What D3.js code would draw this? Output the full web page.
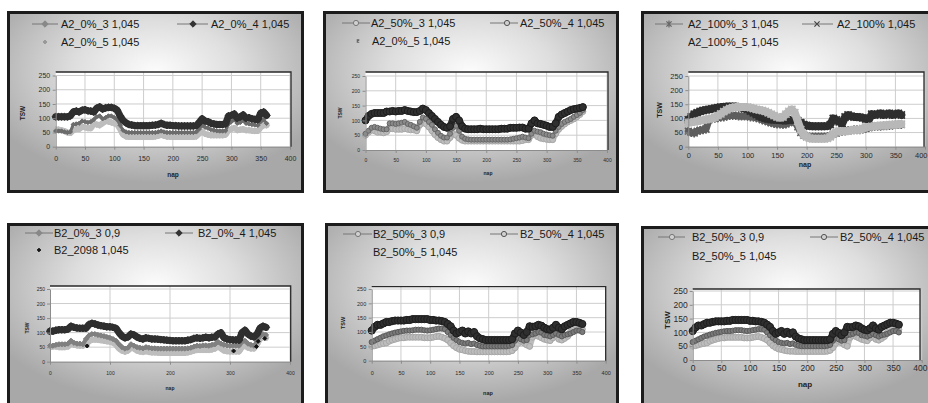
<!DOCTYPE html>
<html>
<head>
<meta charset="utf-8">
<script src="https://cdn.jsdelivr.net/npm/d3@7"></script>
<style>
body{margin:0;background:#fff}
svg{display:block}
text{font-family:"Liberation Sans",Arial,sans-serif}
</style>
</head>
<body>
<div class="chart"></div>
<script>
// day of year (nap) shared by all series
const days = [0,5,10,15,20,25,30,35,40,45,50,55,60,65,70,75,80,85,90,95,100,105,110,115,120,125,130,135,140,145,
150,155,160,165,170,175,180,185,190,195,200,205,210,215,220,225,230,235,240,245,250,255,260,265,270,275,280,285,290,295,
300,305,310,315,320,325,330,335,340,345,350,355,360];
const yTicks = [0,50,100,150,200,250];
const xTicks50 = [0,50,100,150,200,250,300,350,400];
const xTicks100 = [0,100,200,300,400];

// A2_0%
const a0_3 = [55,55,55,52,50,52,78,80,82,90, 88,85,88,95,105,108,98,102,108,108, 102,95,75,58,52,50,50,50,50,50,
50,50,50,50,50,52,55,52,50,50, 50,50,50,50,50,50,50,50,52,62, 75,68,65,60,58,56,55,55,56,80, 88,95,82,85,92,82,80,78,76,75, 88,95,82];
const a0_4 = [105,105,105,105,105,108,122,125,122,128, 130,126,125,122,135,140,132,136,138,138, 135,128,108,92,84,78,76,74,74,74,
74,74,74,75,76,78,82,78,75,75, 74,74,73,73,73,73,73,73,74,85, 98,90,88,82,80,78,78,78,80,108, 110,115,100,105,112,100,102,98,96,95, 118,122,110];
const a0_5 = [60,60,58,55,50,48,58,62,62,70, 68,65,65,80,78,75,82,90,88,85, 82,78,62,42,36,34,34,34,34,34,
34,34,34,34,36,38,42,38,35,35, 34,34,34,34,34,34,34,34,36,46, 52,45,42,40,40,40,40,40,42,58, 62,66,58,60,62,58,58,56,55,55, 68,75,75];

// A2_50%
const a50_3 = [55,65,75,78,75,72,70,70,90,90, 88,90,92,95,88,85,80,75,95,110, 105,95,85,70,58,48,42,42,55,75,
82,65,45,38,36,35,35,35,35,35, 35,35,35,35,35,35,35,35,36,38, 40,42,45,42,40,55,65,62,60,55, 52,50,48,65,78,88,95,100,105,112, 118,125,135];
const a50_4 = [100,115,122,125,125,125,125,130,130,132, 130,132,132,135,132,130,128,128,132,140, 135,125,115,105,95,85,78,75,80,105,
112,100,80,72,70,70,70,70,72,70, 70,70,70,70,70,72,72,72,75,75, 75,76,76,72,72,90,100,90,88,85, 82,78,78,90,112,120,125,130,135,138, 140,142,145];
const a50_5 = [50,60,68,65,60,60,58,62,72,72, 70,70,70,72,70,68,68,65,85,95, 88,78,65,52,42,35,30,30,42,55,
50,40,33,30,30,30,30,30,30,30, 30,30,30,30,30,30,30,30,30,30, 30,30,32,35,35,50,55,45,40,38, 36,35,35,55,70,80,88,95,100,105, 112,120,130];

// A2_100%
const a100_3 = [55,50,48,55,58,60,62,95,100,100, 102,105,105,108,110,110,110,108,108,108, 108,105,105,102,100,95,92,88,85,82,
80,80,78,80,85,90,88,70,50,40, 35,35,35,35,35,35,35,35,38,45, 48,52,55,55,58,58,60,60,60,62, 65,68,70,72,72,72,74,74,75,76, 78,78,78];
const a100_4 = [95,105,115,120,125,128,130,132,134,136, 138,140,140,142,142,142,142,140,138,136, 132,126,120,114,108,104,100,98,96,95,
95,94,93,93,94,95,95,92,85,78, 75,73,72,72,72,72,72,73,78,100, 95,88,82,105,112,108,105,105,104,102, 98,95,115,112,115,118,112,115,118,112, 115,118,112];
const a100_5 = [85,86,88,90,92,94,96,98,100,104, 110,116,124,130,135,138,140,140,140,140, 140,138,135,132,130,128,125,120,115,110,
105,102,105,115,125,132,120,90,60,42, 35,30,28,28,28,28,28,30,35,45, 52,55,55,55,55,58,60,60,60,65, 70,70,72,72,74,75,75,76,78,78, 78,80,80];

// B2_0%
const b0_3 = [55,55,58,60,60,60,62,72,65,62, 62,60,78,90,95,95,92,90,88,85, 82,78,72,60,50,45,48,60,55,50,
48,46,50,48,46,46,45,45,45,45, 45,45,45,45,45,45,46,48,52,55, 54,56,56,55,58,60,68,62,58,56, 55,55,55,55,68,72,62,58,55,70, 88,95,92];
const b0_4 = [105,105,108,110,110,110,112,122,118,116, 115,115,115,128,132,130,126,124,122,120, 120,118,115,100,88,82,85,95,92,85,
80,78,82,80,78,78,77,76,75,74, 73,72,72,72,72,72,74,76,80,82, 80,82,84,82,84,85,95,100,82,78, 76,75,75,74,100,108,95,88,85,95, 115,122,118];
const b0_5 = [50,52,52,50,50,50,52,62,58,56, 55,55,60,70,75,76,75,74,72,70, 68,65,58,45,38,34,38,48,45,38,
35,33,36,33,32,32,31,30,30,30, 30,30,30,30,30,30,32,35,38,40, 40,40,40,40,42,45,52,45,38,36, 35,35,35,35,50,55,48,45,45,60, 78,85,82];
const b2098Days = [62,306,344,347,358];
const b2098 = [54,37,52,70,80];

// B2_50%
const b50_3 = [65,70,75,80,85,88,92,95,98,100, 102,104,105,105,106,108,108,108,106,105, 106,108,110,112,112,110,100,90,80,72,
65,62,60,62,58,60,55,52,50,50, 50,50,50,50,50,50,50,52,55,70, 80,75,70,72,90,92,95,100,98,90, 88,85,90,95,90,85,90,92,95,100, 105,105,100];
const b50_4 = [105,118,125,125,130,135,135,138,140,140, 140,140,142,142,145,145,145,145,145,145, 142,142,140,140,138,135,128,120,105,95,
100,105,95,102,95,100,85,78,75,72, 72,72,72,72,72,72,72,72,75,95, 105,98,90,100,120,118,120,125,122,115, 110,108,115,125,115,110,120,125,130,135, 135,132,128];
const b50_5 = [50,52,55,58,60,62,68,72,75,78, 80,80,82,82,82,82,82,82,80,80, 80,82,84,85,82,78,72,62,52,45,
40,38,35,33,32,32,31,31,31,31, 31,31,31,31,31,31,31,32,35,45, 60,68,62,55,50,82,88,85,80,75, 72,70,80,85,75,72,78,85,100,115, 122,125,110];

const DARK = '#2f2f2f', MID = '#6c6c6c', LIGHT = '#bdbdbd';

function markerPath(type, s) {
  if (type === 'diamond') return `M0,${-s}L${s},0L0,${s}L${-s},0Z`;
  if (type === 'x') return `M${-s},${-s}L${s},${s}M${-s},${s}L${s},${-s}`;
  if (type === 'star') return `M${-s},${-s}L${s},${s}M${-s},${s}L${s},${-s}M0,${-s*1.3}L0,${s*1.3}`;
  return null;
}

const panels = [
  {box:[7,11,297,182], x0:55.7, x400:290, y0:146.7, y250:75.5, top:72, right:291, xTicks:xTicks50,
   tickFont:7, xPad:5.9, yPad:2.5, titleFont:6.5, tsw:[23,113], nap:[173,175], legFont:11, rows:[24,42],
   legend:[{x1:32,x2:58,m:45,t:61,row:0,label:'A2_0%_3 1,045',mk:'diamond',ms:3.2,fill:'#888',stroke:'#888'},
           {x1:177,x2:208,m:193,t:211,row:0,label:'A2_0%_4 1,045',mk:'diamond',ms:3.2,fill:'#333',stroke:'#333'},
           {m:45,t:61,row:1,label:'A2_0%_5 1,045',mk:'diamond',ms:2,fill:'#999',stroke:'#999'}],
   series:[{v:a0_5,c:LIGHT,w:6,mk:'diamond',ms:3},
           {v:a0_3,c:MID,w:3,mk:'diamond',ms:2.2},
           {v:a0_4,c:DARK,w:7,mk:'diamond',ms:3.6}]},
  {box:[323,11,296,182], x0:365.5, x400:607, y0:150, y250:76, top:72, right:608, xTicks:xTicks50,
   tickFont:5, xPad:5.3, yPad:2.5, titleFont:5, tsw:[340,113], nap:[488,173], legFont:11, rows:[23,41],
   legend:[{x1:342,x2:370,m:356,t:371,row:0,label:'A2_50%_3 1,045',mk:'circle',ms:2.6,fill:'#d0d0d0',stroke:'#777'},
           {x1:490,x2:518,m:507,t:520,row:0,label:'A2_50%_4 1,045',mk:'circle',ms:2.6,fill:'#d0d0d0',stroke:'#555'},
           {m:358,t:372,row:1,label:'A2_0%_5 1,045',mk:'star',ms:1.3,fill:'none',stroke:'#666'}],
   series:[{v:a50_5,c:LIGHT,w:6,mk:'circle',ms:3,sc:'#a8a8a8'},
           {v:a50_3,c:'#8a8a8a',w:3,mk:'circle',ms:2.5,sc:'#666'},
           {v:a50_4,c:DARK,w:7,mk:'circle',ms:3.5,sc:'#1e1e1e'}]},
  {box:[641,11,300,182], x0:688.3, x400:925, y0:146.7, y250:76, top:72, right:924, xTicks:xTicks50,
   tickFont:7.5, xPad:2.7, yPad:2.5, titleFont:7, tsw:[660,110], nap:[805,165], legFont:11, rows:[24,42],
   clampLast:true,
   legend:[{x1:655,x2:683,m:669,t:688,row:0,label:'A2_100%_3 1,045',mk:'star',ms:2.6,fill:'none',stroke:'#666'},
           {x1:802,x2:833,m:817,t:837,row:0,label:'A2_100% 1,045',mk:'x',ms:2.6,fill:'none',stroke:'#444'},
           {t:688,row:1,label:'A2_100%_5 1,045'}],
   series:[{v:a100_3,c:'#5e5e5e',w:7,mk:'star',ms:3.4},
           {v:a100_4,c:DARK,w:8,mk:'x',ms:3.6},
           {v:a100_5,c:'#b8b8b8',w:8,mk:'x',ms:3.6}]},
  {box:[7,223,297,190], x0:50, x400:290, y0:361.7, y250:289, top:286, right:290.7, xTicks:xTicks100,
   tickFont:5, xPad:6.9, yPad:2, titleFont:5, tsw:[27,328], nap:[170,388], legFont:11, rows:[233,250],
   legend:[{x1:25,x2:53,m:39,t:54,row:0,label:'B2_0%_3 0,9',mk:'diamond',ms:3.2,fill:'#888',stroke:'#888'},
           {x1:165,x2:193,m:179,t:198,row:0,label:'B2_0%_4 1,045',mk:'diamond',ms:3.2,fill:'#333',stroke:'#333'},
           {m:39,t:54,row:1,label:'B2_2098 1,045',mk:'diamond',ms:1.8,fill:'#111',stroke:'#111'}],
   series:[{v:b0_5,c:LIGHT,w:6,mk:'diamond',ms:3},
           {v:b0_3,c:'#808080',w:4,mk:'diamond',ms:2.6},
           {v:b0_4,c:DARK,w:7,mk:'diamond',ms:3.6}],
   dots:{d:b2098Days,v:b2098}},
  {box:[325,223,294,190], x0:371.7, x400:605.7, y0:360.7, y250:289, top:286.7, right:605.7, xTicks:xTicks50,
   tickFont:5.5, xPad:7.7, yPad:2.5, titleFont:5.5, tsw:[343,323], nap:[488,393], legFont:11, rows:[234,252],
   legend:[{x1:343,x2:372,m:358,t:373,row:0,label:'B2_50%_3 0,9',mk:'circle',ms:2.6,fill:'#d0d0d0',stroke:'#777'},
           {x1:490,x2:518,m:504,t:520,row:0,label:'B2_50%_4 1,045',mk:'circle',ms:2.6,fill:'#d0d0d0',stroke:'#555'},
           {t:373,row:1,label:'B2_50%_5 1,045'}],
   series:[{v:b50_5,c:LIGHT,w:6,mk:'circle',ms:3,sc:'#a8a8a8'},
           {v:b50_3,c:'#7a7a7a',w:4,mk:'circle',ms:2.6,sc:'#5a5a5a'},
           {v:b50_4,c:DARK,w:7,mk:'circle',ms:3.6,sc:'#1e1e1e'}]},
  {box:[641,226,300,190], x0:692.7, x400:921.7, y0:360, y250:291, top:289, right:920, xTicks:xTicks50,
   tickFont:8.5, xPad:2, yPad:2, titleFont:8, tsw:[667,320], nap:[805,384], legFont:11, rows:[237,256],
   narrow:true, clampLast:true,
   legend:[{x1:658,x2:685,m:672,t:692,row:0,label:'B2_50%_3 0,9',mk:'circle',ms:2.6,fill:'#d0d0d0',stroke:'#777'},
           {x1:810,x2:838,m:824,t:840,row:0,label:'B2_50%_4 1,045',mk:'circle',ms:2.6,fill:'#d0d0d0',stroke:'#555'},
           {t:692,row:1,label:'B2_50%_5 1,045'}],
   series:[{v:b50_5,c:LIGHT,w:6,mk:'circle',ms:3,sc:'#a8a8a8'},
           {v:b50_3,c:'#7a7a7a',w:4,mk:'circle',ms:2.6,sc:'#5a5a5a'},
           {v:b50_4,c:DARK,w:7,mk:'circle',ms:3.6,sc:'#1e1e1e'}]}
];

const svg = d3.select('.chart').append('svg')
  .attr('width', 928).attr('height', 403);

const defs = svg.append('defs');
const grad = defs.append('radialGradient').attr('id', 'bg')
  .attr('cx', 0.5).attr('cy', 0.33).attr('r', 0.62);
grad.append('stop').attr('offset', 0).attr('stop-color', '#fcfcfc');
grad.append('stop').attr('offset', 0.45).attr('stop-color', '#dedede');
grad.append('stop').attr('offset', 1).attr('stop-color', '#a8a8a8');

function addMarker(g, type, x, y, s, fill, stroke, sw) {
  if (type === 'circle') {
    g.append('circle').attr('cx', x).attr('cy', y).attr('r', s)
      .attr('fill', fill).attr('stroke', stroke).attr('stroke-width', sw || 1);
  } else {
    g.append('path').attr('d', markerPath(type, s))
      .attr('transform', `translate(${x},${y})`)
      .attr('fill', type === 'diamond' ? fill : 'none')
      .attr('stroke', stroke).attr('stroke-width', sw || 1);
  }
}

panels.forEach(p => {
  const g = svg.append('g');
  const [bx, by, bw, bh] = p.box;

  // panel background and frame
  g.append('rect').attr('x', bx + 1.5).attr('y', by + 1.5)
    .attr('width', bw - 3).attr('height', bh - 3)
    .attr('fill', 'url(#bg)').attr('stroke', '#1c1c1c').attr('stroke-width', 3);

  const x = d3.scaleLinear().domain([0, 400]).range([p.x0, p.x400]);
  const y = d3.scaleLinear().domain([0, 250]).range([p.y0, p.y250]);

  // plot area
  g.append('rect').attr('x', p.x0).attr('y', p.top)
    .attr('width', p.right - p.x0).attr('height', p.y0 - p.top).attr('fill', '#fff');

  g.append('g').selectAll('line.h').data(yTicks.slice(1)).join('line')
    .attr('x1', p.x0).attr('x2', p.right)
    .attr('y1', d => y(d)).attr('y2', d => y(d))
    .attr('stroke', '#cdcdcd').attr('stroke-width', 1);
  g.append('g').selectAll('line.v').data(p.xTicks.slice(1)).join('line')
    .attr('x1', d => x(d)).attr('x2', d => x(d))
    .attr('y1', p.top).attr('y2', p.y0)
    .attr('stroke', '#cdcdcd').attr('stroke-width', 1);

  // series
  const line = d3.line().x(d => x(d[0])).y(d => y(d[1])).curve(d3.curveLinear);
  p.series.forEach(s => {
    const pts = days.map((d, i) => [d, s.v[i]]).filter(d => d[1] != null);
    g.append('path').datum(pts).attr('d', line)
      .attr('fill', 'none').attr('stroke', s.c).attr('stroke-width', s.w)
      .attr('stroke-linejoin', 'round').attr('stroke-linecap', 'round');
    const mg = g.append('g');
    pts.forEach(d => addMarker(mg, s.mk, x(d[0]), y(d[1]), s.ms, s.c, s.sc || s.c,
      s.mk === 'x' || s.mk === 'star' ? 1.6 : 1));
  });
  if (p.dots) {
    p.dots.d.forEach((d, i) => addMarker(g, 'diamond', x(d), y(p.dots.v[i]), 2, '#111', '#111'));
  }

  // axes
  const fam = p.narrow ? '"Liberation Sans Narrow","Liberation Sans",Arial,sans-serif' : '"Liberation Sans",Arial,sans-serif';
  const ya = g.append('g').attr('transform', `translate(${p.x0},0)`)
    .call(d3.axisLeft(y).tickValues(yTicks).tickSize(3).tickPadding(p.yPad).tickSizeOuter(0));
  const xa = g.append('g').attr('transform', `translate(0,${p.y0})`)
    .call(d3.axisBottom(x).tickValues(p.xTicks).tickSize(3).tickPadding(p.xPad).tickSizeOuter(0));
  [ya, xa].forEach(a => {
    a.selectAll('path,line').attr('stroke', '#8c8c8c');
    a.selectAll('text').attr('font-size', p.tickFont).attr('fill', '#2a2a2a')
      .style('font-family', fam);
  });
  if (p.clampLast) {
    // keep the last tick label inside the window
    xa.selectAll('.tick').filter(d => d === 400).select('text')
      .attr('text-anchor', 'end').attr('x', 927 - x(400));
  }

  // dark top/right frame of plot
  g.append('path').attr('d', `M${p.x0},${p.top}H${p.right}V${p.y0}`)
    .attr('fill', 'none').attr('stroke', '#2a2a2a').attr('stroke-width', 1.3);

  // axis titles
  g.append('text').attr('transform', `translate(${p.tsw[0]},${p.tsw[1]}) rotate(-90)`)
    .attr('text-anchor', 'middle').attr('dy', '0.35em')
    .attr('font-size', p.titleFont).attr('font-weight', 'bold').attr('fill', '#222')
    .text('TSW');
  g.append('text').attr('x', p.nap[0]).attr('y', p.nap[1])
    .attr('text-anchor', 'middle').attr('dy', '0.35em')
    .attr('font-size', p.titleFont).attr('font-weight', 'bold').attr('fill', '#222')
    .text('nap');

  // legend
  p.legend.forEach(l => {
    const ly = p.rows[l.row];
    if (l.x1 != null) {
      g.append('line').attr('x1', l.x1).attr('x2', l.x2).attr('y1', ly).attr('y2', ly)
        .attr('stroke', '#777').attr('stroke-width', 1);
    }
    if (l.mk) addMarker(g, l.mk, l.m, ly, l.ms, l.fill, l.stroke, l.mk === 'x' || l.mk === 'star' ? 1.2 : 1);
    g.append('text').attr('x', l.t).attr('y', ly).attr('dy', '0.36em')
      .attr('font-size', p.legFont).attr('fill', '#1a1a1a')
      .style('font-family', fam)
      .text(l.label);
  });
});
</script>
</body>
</html>
